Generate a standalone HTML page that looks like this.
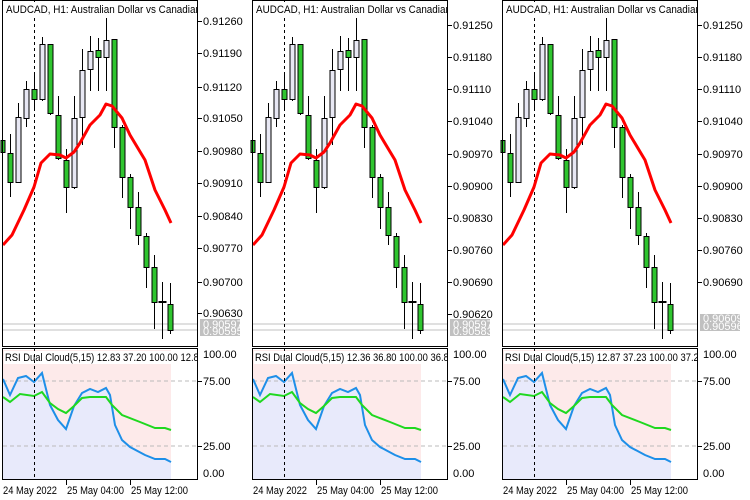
<!DOCTYPE html>
<html><head><meta charset="utf-8"><style>
html,body{margin:0;padding:0;background:#fff;}
svg{display:block;font-family:"Liberation Sans","DejaVu Sans",sans-serif;font-size:11px;}
</style></head><body>
<svg width="750" height="500" viewBox="0 0 750 500" xmlns="http://www.w3.org/2000/svg">
<defs>
<clipPath id="c0"><rect x="3" y="0" width="194" height="480"/></clipPath>
<clipPath id="c1"><rect x="253" y="0" width="194" height="480"/></clipPath>
<clipPath id="c2"><rect x="503" y="0" width="194" height="480"/></clipPath>
<g id="sh">
  <rect x="3" y="350" width="168" height="110" fill="#fdeaea"/>
  <polygon fill="#e8eafb" points="3,379 10,395 18,378 26,376 34,382 42,373 50,405 58,420 66,429 74,406 82,393 90,389 98,392 106,388 110,395 115,425 122,440 130,447 145,455 155,459 165,459 171,462 171,479 3,479"/>
  <line x1="3" y1="381" x2="197" y2="381" stroke="#bbb" stroke-dasharray="4,3"/>
  <line x1="3" y1="446" x2="197" y2="446" stroke="#bbb" stroke-dasharray="4,3"/>
  <rect x="4" y="351" width="194" height="13" fill="#fff"/>
  <polyline fill="none" stroke="#1e8fe8" stroke-width="2" points="3,379 10,395 18,378 26,376 34,382 42,373 50,405 58,420 66,429 74,406 82,393 90,389 98,392 106,388 110,395 115,425 122,440 130,447 145,455 155,459 165,459 171,462"/>
  <polyline fill="none" stroke="#1fd81f" stroke-width="2" points="3,397 10,402 20,394 34,396 42,392 50,403 58,409 66,413 74,406 82,398 90,397 106,397 112,405 122,415 140,422 155,428 165,428 171,430"/>
  <line x1="3" y1="324" x2="197" y2="324" stroke="#c0c0c0"/>
  <line x1="3" y1="330" x2="197" y2="330" stroke="#c0c0c0"/>
  <line x1="34.5" y1="0" x2="34.5" y2="479" stroke="#000" stroke-dasharray="3,3"/>
  <g stroke="#000" stroke-width="1">
    <line x1="10.5" y1="134" x2="10.5" y2="197"/>
    <line x1="18.5" y1="103" x2="18.5" y2="183"/>
    <line x1="26.5" y1="81" x2="26.5" y2="127"/>
    <line x1="34.5" y1="74" x2="34.5" y2="110"/>
    <line x1="42.5" y1="37" x2="42.5" y2="101"/>
    <line x1="50.5" y1="44" x2="50.5" y2="115"/>
    <line x1="58.5" y1="96" x2="58.5" y2="160"/>
    <line x1="66.5" y1="149" x2="66.5" y2="213"/>
    <line x1="74.5" y1="96" x2="74.5" y2="189"/>
    <line x1="82.5" y1="49" x2="82.5" y2="145"/>
    <line x1="90.5" y1="36" x2="90.5" y2="91"/>
    <line x1="98.5" y1="38" x2="98.5" y2="91"/>
    <line x1="106.5" y1="17" x2="106.5" y2="91"/>
    <line x1="114.5" y1="39" x2="114.5" y2="148"/>
    <line x1="122.5" y1="125" x2="122.5" y2="198"/>
    <line x1="130.5" y1="174" x2="130.5" y2="229"/>
    <line x1="138.5" y1="192" x2="138.5" y2="245"/>
    <line x1="146.5" y1="233" x2="146.5" y2="288"/>
    <line x1="154.5" y1="255" x2="154.5" y2="329"/>
    <line x1="162.5" y1="282" x2="162.5" y2="339"/>
    <line x1="170.5" y1="283" x2="170.5" y2="334"/>
    <line x1="158.5" y1="302" x2="166.5" y2="302" stroke-width="2"/>
  </g>
  <g stroke="#000" stroke-width="1">
    <rect x="1" y="140.5" width="4" height="12" fill="#2fc52f"/>
    <rect x="8" y="153.5" width="5" height="29" fill="#2fc52f"/>
    <rect x="16" y="117.5" width="5" height="65" fill="#e8e8f4"/>
    <rect x="24" y="89.5" width="5" height="29" fill="#e8e8f4"/>
    <rect x="32" y="89.5" width="5" height="10" fill="#2fc52f"/>
    <rect x="40" y="44.5" width="5" height="55" fill="#e8e8f4"/>
    <rect x="48" y="44.5" width="5" height="69" fill="#2fc52f"/>
    <rect x="56" y="115.5" width="5" height="43" fill="#2fc52f"/>
    <rect x="64" y="160.5" width="5" height="27" fill="#2fc52f"/>
    <rect x="72" y="118.5" width="5" height="69" fill="#e8e8f4"/>
    <rect x="80" y="70.5" width="5" height="47" fill="#e8e8f4"/>
    <rect x="88" y="51.5" width="5" height="18" fill="#e8e8f4"/>
    <rect x="96" y="50.5" width="5" height="7" fill="#2fc52f"/>
    <rect x="104" y="40.5" width="5" height="17" fill="#e8e8f4"/>
    <rect x="112" y="39.5" width="5" height="88" fill="#2fc52f"/>
    <rect x="120" y="127.5" width="5" height="50" fill="#2fc52f"/>
    <rect x="128" y="177.5" width="5" height="30" fill="#2fc52f"/>
    <rect x="136" y="207.5" width="5" height="28" fill="#2fc52f"/>
    <rect x="144" y="236.5" width="5" height="31" fill="#2fc52f"/>
    <rect x="152" y="267.5" width="5" height="35" fill="#2fc52f"/>
    <rect x="168" y="304.5" width="5" height="26" fill="#2fc52f"/>
  </g>
  <polyline fill="none" stroke="#f00" stroke-width="3" stroke-linejoin="round" points="3,245 12,235 24,210 34,187 41,163 50,154 60,155 66,158 74,152 80,143 90,125 100,115 106,104 112,106 122,118 130,135 145,160 155,190 165,210 171,223"/>
  <rect x="4" y="2" width="194" height="16" fill="#fff"/>
  <rect x="2.5" y="0.5" width="195" height="346" fill="none" stroke="#000"/>
  <rect x="2.5" y="348.5" width="195" height="131" fill="none" stroke="#000"/>
  <g stroke="#000">
    <line x1="66.5" y1="480" x2="66.5" y2="485"/>
    <line x1="130.5" y1="480" x2="130.5" y2="485"/>
  </g>
  <text x="3" y="494" fill="#000" textLength="54" lengthAdjust="spacingAndGlyphs">24 May 2022</text>
  <text x="67" y="494" fill="#000" textLength="57" lengthAdjust="spacingAndGlyphs">25 May 04:00</text>
  <text x="131" y="494" fill="#000" textLength="57" lengthAdjust="spacingAndGlyphs">25 May 12:00</text>
  <g stroke="#000">
    <line x1="198" y1="381.5" x2="202" y2="381.5"/>
    <line x1="198" y1="446.5" x2="202" y2="446.5"/>
  </g>
  <text x="203" y="358" fill="#000">100.00</text>
  <text x="203" y="385" fill="#000">75.00</text>
  <text x="203" y="450" fill="#000">25.00</text>
  <text x="203" y="477" fill="#000">0.00</text>
</g>
</defs>
<use href="#sh" x="0"/>
<use href="#sh" x="250"/>
<use href="#sh" x="500"/>

<g clip-path="url(#c0)" fill="#000">
<text x="6" y="13" textLength="195" lengthAdjust="spacingAndGlyphs">AUDCAD, H1:  Australian Dollar vs Canadian</text>
<text x="5" y="361" textLength="199" lengthAdjust="spacingAndGlyphs">RSI Dual Cloud(5,15) 12.83 37.20 100.00 12.83</text>
</g>
<g clip-path="url(#c1)" fill="#000">
<text x="256" y="13" textLength="195" lengthAdjust="spacingAndGlyphs">AUDCAD, H1:  Australian Dollar vs Canadian</text>
<text x="255" y="361" textLength="199" lengthAdjust="spacingAndGlyphs">RSI Dual Cloud(5,15) 12.36 36.80 100.00 36.80</text>
</g>
<g clip-path="url(#c2)" fill="#000">
<text x="506" y="13" textLength="195" lengthAdjust="spacingAndGlyphs">AUDCAD, H1:  Australian Dollar vs Canadian</text>
<text x="505" y="361" textLength="199" lengthAdjust="spacingAndGlyphs">RSI Dual Cloud(5,15) 12.87 37.23 100.00 37.23</text>
</g>

<g stroke="#000">
<line x1="198" y1="21.5" x2="202" y2="21.5"/><line x1="198" y1="53.5" x2="202" y2="53.5"/><line x1="198" y1="87.5" x2="202" y2="87.5"/><line x1="198" y1="118.5" x2="202" y2="118.5"/><line x1="198" y1="151.5" x2="202" y2="151.5"/><line x1="198" y1="183.5" x2="202" y2="183.5"/><line x1="198" y1="216.5" x2="202" y2="216.5"/><line x1="198" y1="248.5" x2="202" y2="248.5"/><line x1="198" y1="282.5" x2="202" y2="282.5"/><line x1="198" y1="313.5" x2="202" y2="313.5"/>
</g>
<g fill="#000">
<text x="203" y="25">0.91260</text><text x="203" y="57">0.91190</text><text x="203" y="91">0.91120</text><text x="203" y="122">0.91050</text><text x="203" y="155">0.90980</text><text x="203" y="187">0.90910</text><text x="203" y="220">0.90840</text><text x="203" y="252">0.90770</text><text x="203" y="286">0.90700</text><text x="203" y="317">0.90630</text>
</g>
<rect x="200" y="319" width="40" height="17" fill="#c0c0c0"/>
<text x="203" y="328" fill="#fff">0.90597</text><text x="203" y="335" fill="#fff">0.90595</text>

<g stroke="#000">
<line x1="448" y1="25.5" x2="452" y2="25.5"/><line x1="448" y1="57.5" x2="452" y2="57.5"/><line x1="448" y1="89.5" x2="452" y2="89.5"/><line x1="448" y1="121.5" x2="452" y2="121.5"/><line x1="448" y1="154.5" x2="452" y2="154.5"/><line x1="448" y1="186.5" x2="452" y2="186.5"/><line x1="448" y1="218.5" x2="452" y2="218.5"/><line x1="448" y1="250.5" x2="452" y2="250.5"/><line x1="448" y1="282.5" x2="452" y2="282.5"/><line x1="448" y1="314.5" x2="452" y2="314.5"/>
</g>
<g fill="#000">
<text x="453" y="29">0.91250</text><text x="453" y="61">0.91180</text><text x="453" y="93">0.91110</text><text x="453" y="125">0.91040</text><text x="453" y="158">0.90970</text><text x="453" y="190">0.90900</text><text x="453" y="222">0.90830</text><text x="453" y="254">0.90760</text><text x="453" y="286">0.90690</text><text x="453" y="318">0.90620</text>
</g>
<rect x="450" y="319" width="40" height="17" fill="#c0c0c0"/>
<text x="453" y="328" fill="#fff">0.90597</text><text x="453" y="335" fill="#fff">0.90583</text>

<g stroke="#000">
<line x1="698" y1="25.5" x2="702" y2="25.5"/><line x1="698" y1="57.5" x2="702" y2="57.5"/><line x1="698" y1="89.5" x2="702" y2="89.5"/><line x1="698" y1="121.5" x2="702" y2="121.5"/><line x1="698" y1="154.5" x2="702" y2="154.5"/><line x1="698" y1="186.5" x2="702" y2="186.5"/><line x1="698" y1="218.5" x2="702" y2="218.5"/><line x1="698" y1="250.5" x2="702" y2="250.5"/><line x1="698" y1="282.5" x2="702" y2="282.5"/>
</g>
<g fill="#000">
<text x="703" y="29">0.91250</text><text x="703" y="61">0.91180</text><text x="703" y="93">0.91110</text><text x="703" y="125">0.91040</text><text x="703" y="158">0.90970</text><text x="703" y="190">0.90900</text><text x="703" y="222">0.90830</text><text x="703" y="254">0.90760</text><text x="703" y="286">0.90690</text>
</g>
<rect x="700" y="314" width="40" height="17" fill="#c0c0c0"/>
<text x="703" y="322" fill="#fff">0.90609</text><text x="703" y="330" fill="#fff">0.90596</text>
</svg>
</body></html>
